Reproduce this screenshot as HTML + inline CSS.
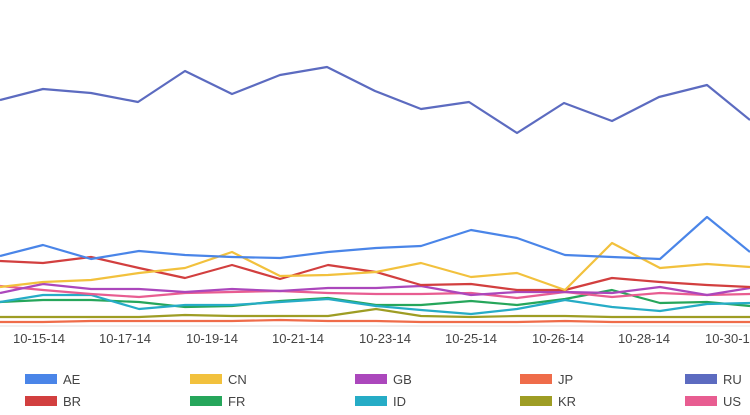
<!DOCTYPE html>
<html><head><style>
body{margin:0;background:#fff;width:750px;height:410px;overflow:hidden;font-family:"Liberation Sans",sans-serif}
</style></head><body>
<svg width="750" height="410" xmlns="http://www.w3.org/2000/svg" font-family="Liberation Sans, sans-serif">
<line x1="0" y1="326" x2="750" y2="326" stroke="#e0e0e0" stroke-width="1"/>
<g fill="none" stroke-width="2.2" stroke-linejoin="round">
<polyline stroke="#5c6bc0" points="0,100 43,89 91,93 138,102 185,71 232,94 280,75 327,67 375,91 421,109 469,102 517,133 564,103 612,121 659,97 707,85 750,120"/>
<polyline stroke="#ef6c4a" points="0,322 43,322 91,321 139,321 185,321 232,321 280,320 328,321 376,321 421,322 471,322 517,322 565,321 612,322 660,322 707,322 750,322"/>
<polyline stroke="#9e9d24" points="0,317 43,317 91,317 139,317 185,315 232,316 280,316 328,316 376,309 421,316 471,317 517,316 565,316 612,317 660,317 707,317 750,317"/>
<polyline stroke="#26a65b" points="0,302 43,300 91,300 139,302 185,307 232,306 280,301 328,298 376,305 421,305 471,301 517,305 565,299 612,290 660,303 707,302 750,306"/>
<polyline stroke="#26acc6" points="0,302 43,295 91,295 139,309 185,305 232,305 280,302 328,299 376,306 421,310 471,314 517,309 565,300 612,307 660,311 707,304 750,303"/>
<polyline stroke="#e85d91" points="0,286 43,290 91,294 139,297 185,293 232,292 280,291 328,293 376,294 421,294 471,293 517,298 565,292 612,297 660,293 707,295 750,294"/>
<polyline stroke="#ab47bc" points="0,293 43,284 91,289 139,289 185,292 232,289 280,291 328,288 376,288 421,286 471,295 517,292 565,292 612,293 660,287 707,295 750,288"/>
<polyline stroke="#d23f3f" points="0,261 43,263 91,257 139,268 185,278 232,265 280,279 328,265 376,272 421,285 471,284 517,290 565,290 612,278 660,282 707,285 750,287"/>
<polyline stroke="#f2c13d" points="0,287 43,282 91,280 139,273 185,268 232,252 280,276 328,275 376,272 421,263 471,277 517,273 565,290 612,243 660,268 707,264 750,267"/>
<polyline stroke="#4a85e8" points="0,256 43,245 91,259 139,251 185,255 232,257 280,258 328,252 376,248 421,246 471,230 517,238 565,255 612,257 660,259 707,217 750,252"/>
</g>
<g font-size="13" fill="#444" text-anchor="middle">
<text x="39" y="343">10-15-14</text><text x="125" y="343">10-17-14</text><text x="212" y="343">10-19-14</text><text x="298" y="343">10-21-14</text><text x="385" y="343">10-23-14</text><text x="471" y="343">10-25-14</text><text x="558" y="343">10-26-14</text><text x="644" y="343">10-28-14</text><text x="731" y="343">10-30-14</text>
</g>
<g font-size="13" fill="#444">
<rect x="25" y="374" width="32" height="10" fill="#4a85e8"/><text x="63" y="384">AE</text>
<rect x="190" y="374" width="32" height="10" fill="#f2c13d"/><text x="228" y="384">CN</text>
<rect x="355" y="374" width="32" height="10" fill="#ab47bc"/><text x="393" y="384">GB</text>
<rect x="520" y="374" width="32" height="10" fill="#ef6c4a"/><text x="558" y="384">JP</text>
<rect x="685" y="374" width="32" height="10" fill="#5c6bc0"/><text x="723" y="384">RU</text>
<rect x="25" y="396" width="32" height="10" fill="#d23f3f"/><text x="63" y="406">BR</text>
<rect x="190" y="396" width="32" height="10" fill="#26a65b"/><text x="228" y="406">FR</text>
<rect x="355" y="396" width="32" height="10" fill="#26acc6"/><text x="393" y="406">ID</text>
<rect x="520" y="396" width="32" height="10" fill="#9e9d24"/><text x="558" y="406">KR</text>
<rect x="685" y="396" width="32" height="10" fill="#e85d91"/><text x="723" y="406">US</text>
</g>
</svg>
</body></html>
